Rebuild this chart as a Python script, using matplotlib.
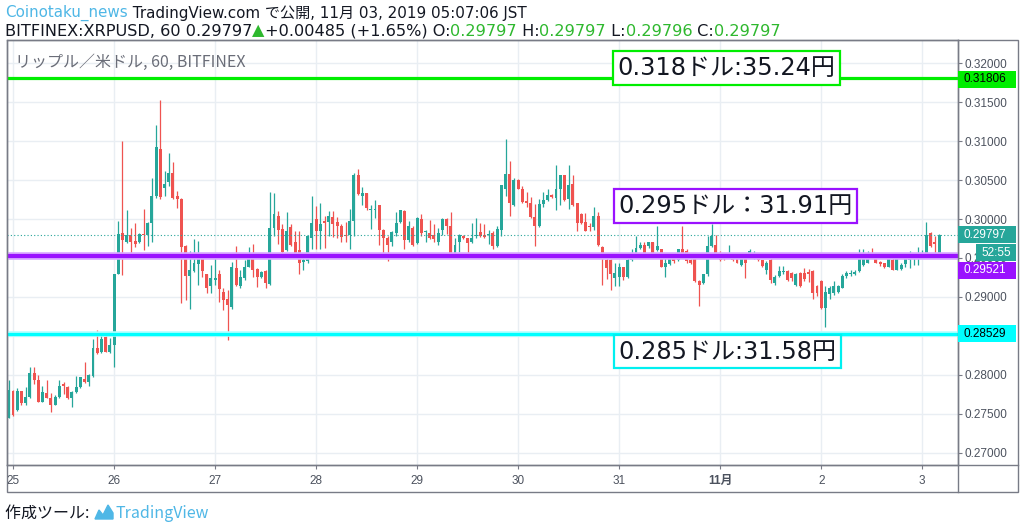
import matplotlib
matplotlib.use("Agg")
import matplotlib.pyplot as plt
from matplotlib.patches import Rectangle, Polygon
from matplotlib.lines import Line2D
import numpy as np

plt.rcParams['font.family'] = ['Noto Sans CJK JP', 'DejaVu Sans']
WIDE = ['DejaVu Sans', 'Noto Sans CJK JP']

# hourly candles, BITFINEX:XRPUSD (first one starts 1h before Oct 25 00:00)
opens = [0.2745, 0.2780, 0.2755, 0.2779, 0.2764, 0.2772, 0.2802, 0.2793, 0.2766, 0.2777,
         0.2771, 0.2762, 0.2772, 0.2789, 0.2785, 0.2771, 0.2778, 0.2784, 0.2795, 0.2791,
         0.2799, 0.2835, 0.2830, 0.2849, 0.2830, 0.2838, 0.2930, 0.2982, 0.2971, 0.2979,
         0.2972, 0.2970, 0.2981, 0.2980, 0.2995, 0.3029, 0.3090, 0.3040, 0.3047, 0.3059,
         0.3030, 0.3026, 0.2966, 0.2927, 0.2933, 0.2942, 0.2950, 0.2930, 0.2914, 0.2922,
         0.2929, 0.2907, 0.2897, 0.2887, 0.2937, 0.2914, 0.2924, 0.2939, 0.2949, 0.2936,
         0.2926, 0.2933, 0.2917, 0.2989, 0.3004, 0.2987, 0.2960, 0.2990, 0.2970, 0.2960,
         0.2945, 0.2946, 0.2976, 0.3000, 0.2985, 0.2998, 0.2996, 0.3003, 0.2996, 0.2991,
         0.2980, 0.2979, 0.2997, 0.3056, 0.3030, 0.3033, 0.3012, 0.3012, 0.3018, 0.2986,
         0.2976, 0.2970, 0.2982, 0.2996, 0.3010, 0.2973, 0.2989, 0.2969, 0.3000, 0.2983,
         0.2982, 0.2979, 0.2971, 0.2986, 0.3000, 0.2991, 0.2954, 0.2971, 0.2978, 0.2976,
         0.2970, 0.2978, 0.2983, 0.2980, 0.2979, 0.2982, 0.2965, 0.2986, 0.3039, 0.3058,
         0.3018, 0.3050, 0.3038, 0.3023, 0.3020, 0.3003, 0.2991, 0.3019, 0.3025, 0.3031,
         0.3027, 0.3038, 0.3056, 0.3026, 0.3045, 0.3020, 0.3006, 0.2996, 0.2991, 0.2990,
         0.3004, 0.2964, 0.2948, 0.2948, 0.2924, 0.2926, 0.2938, 0.2926, 0.2947, 0.2952,
         0.2963, 0.2967, 0.2965, 0.2971, 0.2960, 0.2961, 0.2939, 0.2942, 0.2950, 0.2948,
         0.2961, 0.2959, 0.2948, 0.2950, 0.2920, 0.2918, 0.2929, 0.2965, 0.2967, 0.2957,
         0.2954, 0.2952, 0.2952, 0.2953, 0.2941, 0.2949, 0.2952, 0.2950, 0.2956, 0.2947,
         0.2935, 0.2948, 0.2918, 0.2927, 0.2932, 0.2933, 0.2931, 0.2916, 0.2931, 0.2931,
         0.2932, 0.2933, 0.2914, 0.2920, 0.2886, 0.2904, 0.2905, 0.2907, 0.2912, 0.2927,
         0.2929, 0.2929, 0.2933, 0.2941, 0.2944, 0.2956, 0.2956, 0.2945, 0.2943, 0.2939,
         0.2948, 0.2935, 0.2936, 0.2942, 0.2948, 0.2952, 0.2953, 0.2956, 0.2956, 0.2982,
         0.2970, 0.2954]
highs = [0.2793, 0.2781, 0.2783, 0.2780, 0.2785, 0.2810, 0.2810, 0.2800, 0.2786, 0.2794,
         0.2777, 0.2774, 0.2794, 0.2791, 0.2786, 0.2779, 0.2799, 0.2798, 0.2817, 0.2801,
         0.2846, 0.2858, 0.2854, 0.2850, 0.2848, 0.2930, 0.2998, 0.3100, 0.3011, 0.2989,
         0.2995, 0.2982, 0.3013, 0.2996, 0.3053, 0.3120, 0.3153, 0.3062, 0.3085, 0.3073,
         0.3036, 0.3027, 0.2967, 0.2959, 0.2974, 0.2972, 0.2950, 0.2930, 0.2941, 0.2950,
         0.2935, 0.2912, 0.2909, 0.2945, 0.2966, 0.2935, 0.2948, 0.2964, 0.2968, 0.2937,
         0.2933, 0.2935, 0.3035, 0.3033, 0.3010, 0.2993, 0.3009, 0.2993, 0.2985, 0.2985,
         0.2956, 0.2979, 0.3030, 0.3017, 0.3020, 0.3004, 0.3010, 0.3010, 0.3003, 0.2993,
         0.2996, 0.3013, 0.3059, 0.3064, 0.3041, 0.3033, 0.3018, 0.3025, 0.3018, 0.2987,
         0.2978, 0.2984, 0.3009, 0.3012, 0.3011, 0.2998, 0.2991, 0.3003, 0.3006, 0.2986,
         0.2999, 0.2994, 0.2988, 0.3001, 0.3001, 0.3009, 0.2976, 0.2981, 0.2980, 0.2976,
         0.2995, 0.3001, 0.2995, 0.2994, 0.2986, 0.2984, 0.2991, 0.3044, 0.3103, 0.3074,
         0.3053, 0.3051, 0.3042, 0.3035, 0.3028, 0.3019, 0.3026, 0.3034, 0.3038, 0.3032,
         0.3069, 0.3057, 0.3056, 0.3069, 0.3057, 0.3021, 0.3008, 0.3008, 0.2995, 0.3015,
         0.3009, 0.2965, 0.2952, 0.2949, 0.2944, 0.2943, 0.2939, 0.2950, 0.2961, 0.2978,
         0.2971, 0.2970, 0.2971, 0.2971, 0.2991, 0.2962, 0.2954, 0.2950, 0.2952, 0.2962,
         0.2991, 0.2961, 0.2949, 0.2951, 0.2922, 0.2930, 0.2978, 0.2993, 0.2980, 0.2959,
         0.2956, 0.2967, 0.2953, 0.2954, 0.2952, 0.2950, 0.2961, 0.2959, 0.2957, 0.2948,
         0.2946, 0.2952, 0.2928, 0.2940, 0.2940, 0.2934, 0.2932, 0.2931, 0.2932, 0.2937,
         0.2936, 0.2934, 0.2916, 0.2922, 0.2914, 0.2914, 0.2920, 0.2916, 0.2929, 0.2933,
         0.2935, 0.2935, 0.2961, 0.2961, 0.2959, 0.2963, 0.2956, 0.2946, 0.2944, 0.2954,
         0.2950, 0.2950, 0.2944, 0.2950, 0.2959, 0.2954, 0.2964, 0.2960, 0.2996, 0.2983,
         0.2978, 0.2981]
lows = [0.2745, 0.2747, 0.2754, 0.2762, 0.2762, 0.2771, 0.2788, 0.2765, 0.2765, 0.2770,
        0.2753, 0.2761, 0.2771, 0.2776, 0.2769, 0.2759, 0.2777, 0.2783, 0.2790, 0.2786,
        0.2798, 0.2827, 0.2828, 0.2829, 0.2828, 0.2810, 0.2929, 0.2928, 0.2969, 0.2954,
        0.2964, 0.2969, 0.2960, 0.2965, 0.2970, 0.3027, 0.3026, 0.3029, 0.3042, 0.3026,
        0.3014, 0.2892, 0.2896, 0.2884, 0.2932, 0.2915, 0.2926, 0.2905, 0.2905, 0.2916,
        0.2894, 0.2883, 0.2845, 0.2885, 0.2914, 0.2911, 0.2922, 0.2938, 0.2926, 0.2913,
        0.2924, 0.2911, 0.2915, 0.2978, 0.2968, 0.2956, 0.2959, 0.2966, 0.2950, 0.2930,
        0.2935, 0.2944, 0.2961, 0.2962, 0.2962, 0.2963, 0.2978, 0.2977, 0.2976, 0.2971,
        0.2970, 0.2962, 0.2978, 0.3031, 0.3018, 0.3011, 0.2987, 0.3001, 0.2967, 0.2956,
        0.2946, 0.2965, 0.2978, 0.2995, 0.2962, 0.2971, 0.2965, 0.2968, 0.2978, 0.2971,
        0.2974, 0.2971, 0.2967, 0.2980, 0.2981, 0.2953, 0.2953, 0.2958, 0.2974, 0.2954,
        0.2969, 0.2976, 0.2977, 0.2976, 0.2968, 0.2961, 0.2964, 0.2978, 0.3029, 0.3004,
        0.3017, 0.3038, 0.3021, 0.3016, 0.3001, 0.2966, 0.2990, 0.3016, 0.3023, 0.3027,
        0.3012, 0.3018, 0.3023, 0.3013, 0.3017, 0.2984, 0.2993, 0.2984, 0.2984, 0.2986,
        0.2965, 0.2916, 0.2923, 0.2909, 0.2914, 0.2914, 0.2922, 0.2924, 0.2946, 0.2950,
        0.2961, 0.2952, 0.2963, 0.2954, 0.2959, 0.2938, 0.2925, 0.2941, 0.2944, 0.2946,
        0.2954, 0.2944, 0.2942, 0.2919, 0.2888, 0.2917, 0.2927, 0.2964, 0.2952, 0.2946,
        0.2948, 0.2950, 0.2946, 0.2943, 0.2940, 0.2924, 0.2951, 0.2949, 0.2946, 0.2939,
        0.2929, 0.2918, 0.2916, 0.2925, 0.2929, 0.2921, 0.2920, 0.2914, 0.2913, 0.2921,
        0.2919, 0.2898, 0.2901, 0.2885, 0.2862, 0.2898, 0.2903, 0.2905, 0.2911, 0.2924,
        0.2927, 0.2928, 0.2932, 0.2940, 0.2943, 0.2952, 0.2943, 0.2940, 0.2937, 0.2938,
        0.2934, 0.2934, 0.2935, 0.2939, 0.2937, 0.2941, 0.2941, 0.2954, 0.2955, 0.2964,
        0.2954, 0.2953]
closes = [0.2781, 0.2749, 0.2779, 0.2764, 0.2772, 0.2803, 0.2793, 0.2766, 0.2778, 0.2771,
          0.2762, 0.2772, 0.2786, 0.2786, 0.2771, 0.2778, 0.2785, 0.2797, 0.2791, 0.2800,
          0.2835, 0.2828, 0.2846, 0.2830, 0.2838, 0.2930, 0.2981, 0.2973, 0.2980, 0.2971,
          0.2968, 0.2981, 0.2980, 0.2995, 0.3029, 0.3092, 0.3028, 0.3045, 0.3059, 0.3027,
          0.3026, 0.2964, 0.2927, 0.2935, 0.2943, 0.2952, 0.2933, 0.2911, 0.2924, 0.2924,
          0.2910, 0.2896, 0.2890, 0.2938, 0.2915, 0.2926, 0.2939, 0.2952, 0.2935, 0.2925,
          0.2932, 0.2918, 0.2989, 0.3006, 0.2986, 0.2958, 0.2984, 0.2967, 0.2956, 0.2943,
          0.2947, 0.2978, 0.2995, 0.2984, 0.2993, 0.2995, 0.3004, 0.2993, 0.2991, 0.2977,
          0.2978, 0.2998, 0.3057, 0.3032, 0.3033, 0.3014, 0.3013, 0.3013, 0.2986, 0.2976,
          0.2967, 0.2983, 0.2995, 0.3011, 0.2973, 0.2991, 0.2967, 0.3001, 0.2982, 0.2985,
          0.2976, 0.2974, 0.2982, 0.3000, 0.2991, 0.2954, 0.2967, 0.2980, 0.2975, 0.2969,
          0.2976, 0.2980, 0.2978, 0.2977, 0.2981, 0.2965, 0.2987, 0.3043, 0.3058, 0.3020,
          0.3050, 0.3039, 0.3022, 0.3020, 0.3003, 0.2991, 0.3019, 0.3025, 0.3031, 0.3028,
          0.3038, 0.3056, 0.3025, 0.3044, 0.3018, 0.2995, 0.2995, 0.2984, 0.2990, 0.3004,
          0.2967, 0.2952, 0.2937, 0.2929, 0.2931, 0.2938, 0.2926, 0.2948, 0.2952, 0.2963,
          0.2967, 0.2954, 0.2970, 0.2956, 0.2965, 0.2939, 0.2944, 0.2949, 0.2946, 0.2961,
          0.2956, 0.2946, 0.2943, 0.2920, 0.2915, 0.2929, 0.2965, 0.2978, 0.2954, 0.2948,
          0.2952, 0.2956, 0.2948, 0.2944, 0.2950, 0.2944, 0.2959, 0.2956, 0.2947, 0.2940,
          0.2944, 0.2922, 0.2926, 0.2933, 0.2933, 0.2922, 0.2924, 0.2930, 0.2914, 0.2923,
          0.2929, 0.2905, 0.2905, 0.2886, 0.2907, 0.2912, 0.2914, 0.2914, 0.2927, 0.2931,
          0.2931, 0.2932, 0.2950, 0.2952, 0.2957, 0.2954, 0.2944, 0.2942, 0.2939, 0.2950,
          0.2935, 0.2949, 0.2941, 0.2949, 0.2954, 0.2954, 0.2957, 0.2957, 0.2980, 0.2965,
          0.2968, 0.29797]

day_labels = ['25', '26', '27', '28', '29', '30', '31', '11月', '2', '3']
price_ticks = [0.270, 0.275, 0.280, 0.285, 0.290, 0.295, 0.300, 0.305, 0.310, 0.315, 0.320]
levels = [0.31806, 0.29521, 0.28529]
level_colors = ['#00ee00', '#9a12ff', '#00ffff']
level_text_colors = ['black', 'white', 'black']
notes = ['0.318ドル:35.24円', '0.295ドル：31.91円', '0.285ドル:31.58円']
note_x = [143.6, 143.8, 143.8]
note_y = [0.31936, 0.30167, 0.28301]
last_price = 0.29797
countdown = '52:55'

UP, DOWN = '#26a69a', '#ef5350'
W, H = 1024, 530
fig = plt.figure(figsize=(W / 100, H / 100), dpi=100)
L, R, T, B = 7, 958, 40, 465
ax = fig.add_axes([L / W, 1 - B / H, (R - L) / W, (B - T) / H])

x = np.arange(len(closes)) - 1
o, h, l, c = map(np.array, (opens, highs, lows, closes))
cols = np.where(c >= o, UP, DOWN)
ax.vlines(x, l, h, colors=cols, lw=0.9, zorder=3)
ax.bar(x, np.maximum(np.abs(c - o), 0.00004), bottom=np.minimum(o, c), width=0.7,
       color=cols, linewidth=0, zorder=3)

ax.set_xlim(-1.43, 224.5)
ax.set_ylim(0.26846, 0.32295)

# grid / ticks (0.285 label sits fully under the cyan price tag)
ax.set_yticks(price_ticks)
ax.set_yticklabels(['' if abs(v - levels[2]) < 0.001 else f'{v:.5f}' for v in price_ticks])
ax.set_xticks(np.arange(len(day_labels)) * 24)
ax.set_xticklabels(day_labels)
ax.grid(True, color='#e9eef3', lw=1, zorder=0)
ax.yaxis.tick_right()
ax.tick_params(axis='y', direction='out', length=3, width=0.8, color='#787b86',
               labelcolor='#4c525e', labelsize=8.5, pad=2)
ax.tick_params(axis='x', direction='out', length=3, width=0.8, color='#787b86',
               labelcolor='#4c525e', labelsize=8.5, pad=4)
for lab in ax.get_xticklabels() + ax.get_yticklabels():
    lab.set_family(['Liberation Sans', 'Noto Sans CJK JP'])
ax.get_xticklabels()[7].set_fontweight('bold')
for s in ax.spines.values():
    s.set_color('#787b86')
    s.set_linewidth(1)

# horizontal levels
ax.axhline(last_price, color=UP, ls=(0, (1, 2)), lw=0.8, zorder=4)
ax.axhline(levels[0], color=level_colors[0], lw=2.3, zorder=5)
ax.axhline(levels[1], color='#d9a8ff', lw=5.5, zorder=5)
ax.axhline(levels[1], color=level_colors[1], lw=3.0, zorder=5)
ax.axhline(levels[2], color='#b0ffff', lw=4.0, zorder=5)
ax.axhline(levels[2], color=level_colors[2], lw=2.3, zorder=5)

for txt, nx, ny, col in zip(notes, note_x, note_y, level_colors):
    ax.text(nx, ny, txt, fontsize=17.3, family=WIDE, color='#131722', va='center', ha='left',
            zorder=6, bbox=dict(boxstyle='square,pad=0.2', fc='white',
                                ec=col if col != '#00ffff' else '#00f0f0', lw=1.6))

ax.text(0.008, 0.948, 'リップル／米ドル, 60, BITFINEX', transform=ax.transAxes, fontsize=11.5,
        color='#6a6d78', va='center', zorder=6)

# outer frame of chart panel
frame = '#787b86'
fig.add_artist(Rectangle((L / W, 1 - 492 / H), (1018 - L) / W, (492 - T) / H,
                         transform=fig.transFigure, fill=False, ec=frame, lw=1))
fig.add_artist(Line2D([R / W, R / W], [1 - T / H, 1 - 492 / H], transform=fig.transFigure, color=frame, lw=1))
fig.add_artist(Line2D([L / W, 1018 / W], [1 - B / H, 1 - B / H], transform=fig.transFigure, color=frame, lw=1))


def price_y(p):
    return H - ax.transData.transform((0, p))[1]


def tag(py, text, bg, fg, x0=958, x1=1016):
    fig.add_artist(Rectangle((x0 / W, 1 - (py + 8.5) / H), (x1 - x0) / W, 17 / H,
                             transform=fig.transFigure, fc=bg, ec='none', zorder=10))
    fig.text((x0 + 5) / W, 1 - py / H, text, color=fg, fontsize=8.5, va='center',
             family='Liberation Sans', zorder=11)


tag(price_y(levels[0]) + 1, f'{levels[0]:.5f}', level_colors[0], level_text_colors[0])
tag(price_y(last_price), f'{last_price:.5f}', UP, 'white')
tag(price_y(last_price) + 18, countdown, UP, 'white', x0=976)
tag(price_y(levels[1]) + 14, f'{levels[1]:.5f}', level_colors[1], level_text_colors[1])
tag(price_y(levels[2]), f'{levels[2]:.5f}', level_colors[2], level_text_colors[2])


# header / footer text written in pieces with different colours
def write_line(x_px, y_px, parts, size, family=WIDE):
    renderer = fig.canvas.get_renderer()
    ref = fig.text(0, 0, 'x', fontsize=size, family=family)
    ref_w = ref.get_window_extent(renderer).width
    prefix = ''
    for s, col in parts:
        probe = fig.text(0, 0, prefix + 'x', fontsize=size, family=family)
        off = probe.get_window_extent(renderer).width - ref_w if prefix else 0
        probe.remove()
        fig.text((x_px + off) / W, 1 - y_px / H, s, color=col, fontsize=size,
                 family=family, va='center')
        prefix += s
    ref.remove()


DARK, GREEN, BLUE = '#131722', '#2eb82e', '#4fb7e6'
write_line(5, 13, [('Coinotaku_news', BLUE),
                   (' TradingView.com で公開, 11月 03, 2019 05:07:06 JST', DARK)], 10.9)
write_line(5, 31, [('BITFINEX:XRPUSD, 60 0.29797', DARK), ('▲', GREEN),
                   ('+0.00485 (+1.65%) O:', DARK), ('0.29797', GREEN), (' H:', DARK),
                   ('0.29797', GREEN), (' L:', DARK), ('0.29796', GREEN), (' C:', DARK),
                   ('0.29797', GREEN)], 11.6)
write_line(5, 513, [('作成ツール: ', DARK)], 11.5, family=['Noto Sans CJK JP'])

logo = [(95, 519), (99, 510), (103, 515), (108, 505), (113, 513), (113, 519)]
fig.add_artist(Polygon([(px / W, 1 - py / H) for px, py in logo], closed=True,
                       transform=fig.transFigure, fc=BLUE, ec=BLUE, lw=1))
fig.text(116 / W, 1 - 513 / H, 'TradingView', color=BLUE, fontsize=11.5, va='center')

fig.savefig('out.png', dpi=100, facecolor='white')
